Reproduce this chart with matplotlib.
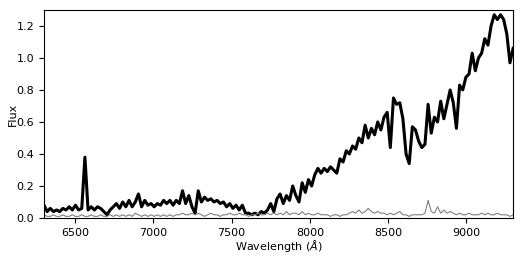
import matplotlib
matplotlib.use("Agg")
import matplotlib.pyplot as plt
import numpy as np

# wavelength grid, about 20 A per step, 6300-9300 A
wave = np.linspace(6300, 9300, 150)

# flux, one row per ~200 A
flux = [0.08, 0.04, 0.06, 0.04, 0.05, 0.04, 0.06, 0.05, 0.07, 0.05,
        0.08, 0.05, 0.06, 0.38, 0.05, 0.07, 0.05, 0.07, 0.06, 0.04,
        0.02, 0.05, 0.07, 0.09, 0.06, 0.10, 0.07, 0.11, 0.07, 0.10,
        0.15, 0.07, 0.11, 0.08, 0.09, 0.07, 0.09, 0.08, 0.11, 0.09,
        0.11, 0.08, 0.11, 0.09, 0.17, 0.09, 0.14, 0.07, 0.03, 0.17,
        0.10, 0.13, 0.11, 0.12, 0.10, 0.11, 0.09, 0.10, 0.07, 0.09,
        0.06, 0.08, 0.05, 0.08, 0.03, 0.03, 0.02, 0.03, 0.02, 0.04,
        0.03, 0.05, 0.09, 0.04, 0.12, 0.15, 0.09, 0.14, 0.11, 0.20,
        0.14, 0.10, 0.22, 0.16, 0.24, 0.20, 0.27, 0.31, 0.28, 0.31,
        0.29, 0.32, 0.30, 0.28, 0.37, 0.35, 0.42, 0.40, 0.45, 0.43,
        0.50, 0.47, 0.58, 0.50, 0.56, 0.52, 0.60, 0.55, 0.63, 0.66,
        0.44, 0.75, 0.71, 0.72, 0.62, 0.40, 0.34, 0.57, 0.55, 0.48,
        0.44, 0.46, 0.71, 0.53, 0.63, 0.60, 0.73, 0.62, 0.71, 0.80,
        0.72, 0.56, 0.83, 0.80, 0.88, 0.90, 1.03, 0.92, 1.00, 1.03,
        1.12, 1.08, 1.20, 1.27, 1.24, 1.27, 1.24, 1.15, 0.97, 1.06]

# error spectrum (grey)
err = [0.02, 0.01, 0.01, 0.02, 0.01, 0.01, 0.02, 0.01, 0.01, 0.02,
       0.01, 0.01, 0.02, 0.01, 0.01, 0.02, 0.01, 0.01, 0.02, 0.01,
       0.01, 0.02, 0.01, 0.02, 0.01, 0.02, 0.01, 0.02, 0.01, 0.03,
       0.02, 0.01, 0.02, 0.01, 0.02, 0.01, 0.02, 0.01, 0.02, 0.01,
       0.02, 0.01, 0.02, 0.02, 0.03, 0.02, 0.02, 0.03, 0.02, 0.03,
       0.02, 0.01, 0.02, 0.03, 0.02, 0.02, 0.01, 0.02, 0.02, 0.03,
       0.02, 0.02, 0.03, 0.02, 0.02, 0.01, 0.02, 0.02, 0.03, 0.02,
       0.02, 0.03, 0.02, 0.03, 0.02, 0.03, 0.02, 0.04, 0.02, 0.03,
       0.03, 0.02, 0.04, 0.02, 0.03, 0.02, 0.02, 0.03, 0.02, 0.02,
       0.02, 0.01, 0.02, 0.02, 0.01, 0.02, 0.02, 0.03, 0.04, 0.03,
       0.05, 0.03, 0.04, 0.06, 0.04, 0.03, 0.04, 0.03, 0.03, 0.02,
       0.03, 0.02, 0.03, 0.04, 0.02, 0.02, 0.01, 0.02, 0.02, 0.02,
       0.02, 0.03, 0.11, 0.04, 0.03, 0.07, 0.03, 0.05, 0.03, 0.04,
       0.03, 0.02, 0.03, 0.02, 0.02, 0.03, 0.02, 0.02, 0.02, 0.03,
       0.02, 0.03, 0.02, 0.02, 0.03, 0.02, 0.02, 0.02, 0.01, 0.02]

fig = plt.figure(figsize=(5.23, 2.62), dpi=100)
ax = fig.add_axes([0.0841, 0.168, 0.897, 0.794])

ax.plot(wave, flux, color="black", lw=2.2)
ax.plot(wave, err, color="grey", lw=0.8)

ax.set_xlim(6300, 9300)
ax.set_ylim(0, 1.3)
ax.set_xticks([6500, 7000, 7500, 8000, 8500, 9000])
ax.set_yticks([0.0, 0.2, 0.4, 0.6, 0.8, 1.0, 1.2])
ax.tick_params(labelsize=8, width=0.8, length=3.5)
ax.set_xlabel(r"Wavelength ($\AA$)", fontsize=8, labelpad=0.5)
ax.set_ylabel("Flux", fontsize=8, labelpad=-1)

fig.savefig("out.png", dpi=100)
